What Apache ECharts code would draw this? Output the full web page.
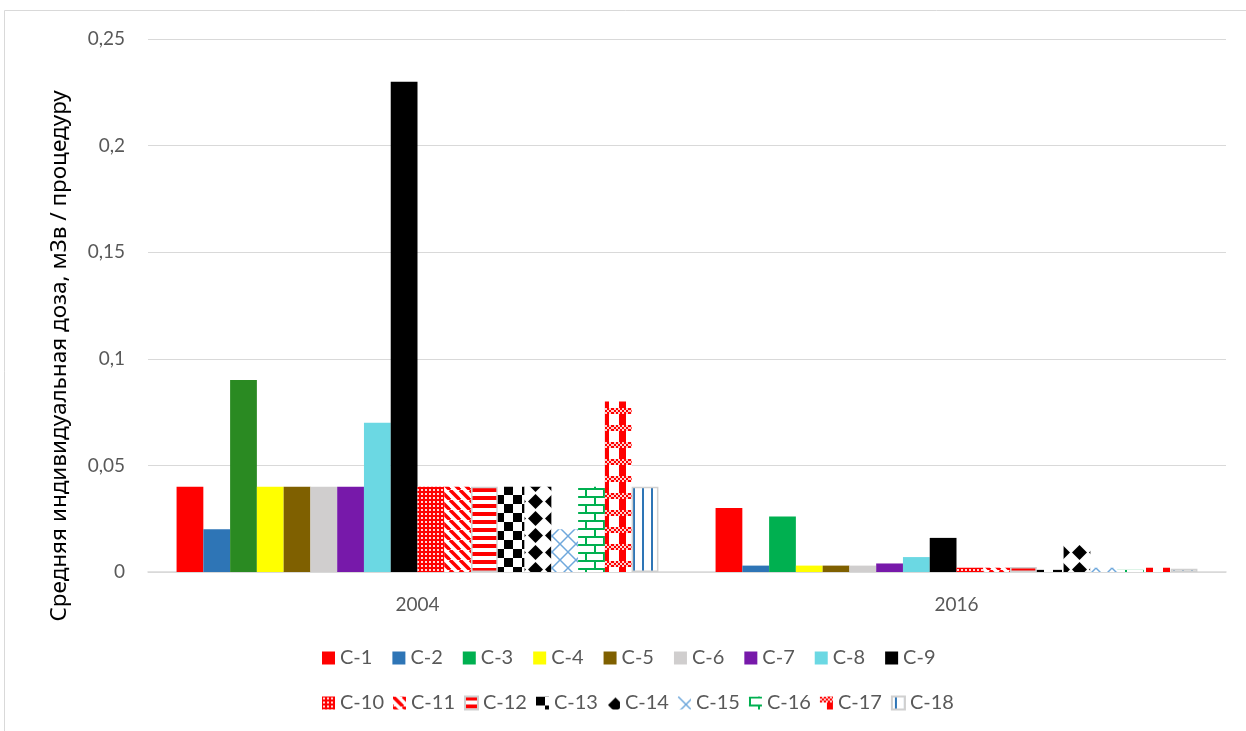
<!DOCTYPE html>
<html>
<head>
<meta charset="utf-8">
<title>Доза</title>
<script src="https://cdn.jsdelivr.net/npm/echarts@6/dist/echarts.min.js"></script>
<style>
  html, body { margin: 0; padding: 0; background: #fff; }
  #chart { width: 1246px; height: 731px; }
</style>
</head>
<body>
<div id="chart"></div>
<script>
  // data
  const categories = ['2004', '2016']
  const seriesNames = ['C-1', 'C-2', 'C-3', 'C-4', 'C-5', 'C-6', 'C-7', 'C-8', 'C-9',
    'C-10', 'C-11', 'C-12', 'C-13', 'C-14', 'C-15', 'C-16', 'C-17', 'C-18']
  const values2004 = [0.04, 0.02, 0.09, 0.04, 0.04, 0.04, 0.04, 0.07, 0.23,
    0.04, 0.04, 0.04, 0.04, 0.04, 0.02, 0.04, 0.08, 0.04]
  const values2016 = [0.03, 0.003, 0.026, 0.003, 0.003, 0.003, 0.004, 0.007, 0.016,
    0.002, 0.002, 0.0023, 0.001, 0.013, 0.002, 0.001, 0.002, 0.0015]
  const yTicks = { min: 0, max: 0.25, step: 0.05 }
  const yTitle = 'Средняя индивидуальная доза, мЗв / процедуру'

  // pattern tiles
  function tile(w, h, draw) {
    const c = document.createElement('canvas')
    c.width = w
    c.height = h
    const g = c.getContext('2d')
    g.fillStyle = '#fff'
    g.fillRect(0, 0, w, h)
    draw(g)
    return { image: c, repeat: 'repeat' }
  }
  const RED = '#ff0000'
  const patterns = {
    'C-10': tile(4, 4, g => {
      g.fillStyle = RED; g.fillRect(0, 0, 4, 4)
      g.fillStyle = '#ffd6d6'; g.fillRect(1, 1, 2, 2)
    }),
    'C-11': tile(10, 10, g => {
      g.strokeStyle = RED; g.lineWidth = 3.5
      for (let k = -10; k <= 10; k += 10) {
        g.beginPath(); g.moveTo(k, 0); g.lineTo(k + 10, 10); g.stroke()
      }
    }),
    'C-12': tile(8, 8, g => {
      g.fillStyle = RED; g.fillRect(0, 0, 8, 4)
    }),
    'C-13': tile(18, 18, g => {
      g.fillStyle = '#000'; g.fillRect(0, 0, 9, 9); g.fillRect(9, 9, 9, 9)
    }),
    'C-14': tile(17, 17, g => {
      g.fillStyle = '#000'
      g.beginPath()
      g.moveTo(8.5, 1); g.lineTo(16, 8.5); g.lineTo(8.5, 16); g.lineTo(1, 8.5)
      g.closePath(); g.fill()
    }),
    'C-15': tile(16, 16, g => {
      g.strokeStyle = '#6fa8dc'; g.lineWidth = 1.5
      g.beginPath(); g.moveTo(0, 0); g.lineTo(16, 16); g.stroke()
      g.beginPath(); g.moveTo(16, 0); g.lineTo(0, 16); g.stroke()
    }),
    'C-16': tile(18, 16, g => {
      g.fillStyle = '#00b050'
      g.fillRect(0, 0, 18, 2); g.fillRect(0, 8, 18, 2)
      g.fillRect(0, 0, 2, 8); g.fillRect(9, 8, 2, 8)
    }),
    'C-17': tile(17, 17, g => {
      g.fillStyle = RED; g.fillRect(7, 0, 7, 17)
      for (let x = 0; x < 17; x += 2) {
        for (let y = 0; y < 6; y += 2) {
          g.fillStyle = ((x + y) / 2) % 2 === 0 ? RED : '#ffd0d0'
          g.fillRect(x, y, 2, 2)
        }
      }
    }),
    'C-18': tile(9, 10, g => {
      g.fillStyle = '#2e75b6'; g.fillRect(3, 0, 2, 10)
    })
  }
  const solidColors = {
    'C-1': '#ff0000', 'C-2': '#2e75b6', 'C-3': '#00b050', 'C-4': '#ffff00', 'C-5': '#7f6000',
    'C-6': '#d0cece', 'C-7': '#7719aa', 'C-8': '#6bd8e3', 'C-9': '#000000'
  }
  const bordered = ['C-12', 'C-18']

  const chart = echarts.init(document.getElementById('chart'))

  const series = seriesNames.map((name, i) => {
    const d2004 = name === 'C-3'
      ? { value: values2004[i], itemStyle: { color: '#2a8a22' } }
      : values2004[i]
    return {
      name: name,
      type: 'bar',
      barGap: '0%',
      barCategoryGap: '10.6%',
      data: [d2004, values2016[i]],
      itemStyle: {
        color: solidColors[name] || patterns[name],
        borderColor: bordered.indexOf(name) >= 0 ? '#d0d0d0' : null,
        borderWidth: bordered.indexOf(name) >= 0 ? 1.5 : 0
      },
      emphasis: { disabled: true }
    }
  })

  const legendBase = {
    orient: 'horizontal',
    left: 322,
    padding: 0,
    itemWidth: 13,
    itemHeight: 13,
    icon: 'rect',
    selectedMode: false,
    textStyle: { fontFamily: 'Lato', fontSize: 20, color: '#595959' }
  }

  const option = {
    animation: false,
    backgroundColor: '#fff',
    textStyle: { fontFamily: 'Lato' },
    grid: { left: 148, right: 20, top: 39, bottom: 159 },
    legend: [
      Object.assign({}, legendBase, { top: 648, itemGap: 20, data: seriesNames.slice(0, 9) }),
      Object.assign({}, legendBase, { top: 693, itemGap: 9, data: seriesNames.slice(9) })
    ],
    xAxis: {
      type: 'category',
      data: categories,
      axisLine: { lineStyle: { color: '#d9d9d9', width: 1.5 } },
      axisTick: { show: false },
      axisLabel: { fontSize: 19, color: '#595959', margin: 23 }
    },
    yAxis: {
      type: 'value',
      min: yTicks.min,
      max: yTicks.max,
      interval: yTicks.step,
      axisLine: { show: false },
      axisTick: { show: false },
      splitLine: { lineStyle: { color: '#d9d9d9', width: 1.2 } },
      axisLabel: {
        fontSize: 19,
        color: '#595959',
        margin: 23,
        formatter: v => String(+v.toFixed(3)).replace('.', ',')
      }
    },
    graphic: [
      {
        type: 'rect',
        shape: { x: 4.5, y: 10.5, width: 1260, height: 740 },
        style: { fill: 'none', stroke: '#d9d9d9', lineWidth: 1 },
        silent: true
      },
      {
        type: 'text',
        x: 60,
        y: 356,
        rotation: Math.PI / 2,
        style: {
          text: yTitle,
          fontFamily: 'Noto Sans',
          fontSize: 22.5,
          fill: '#000',
          align: 'center',
          verticalAlign: 'middle'
        },
        silent: true
      }
    ],
    series: series
  }

  chart.setOption(option)
</script>
</body>
</html>
